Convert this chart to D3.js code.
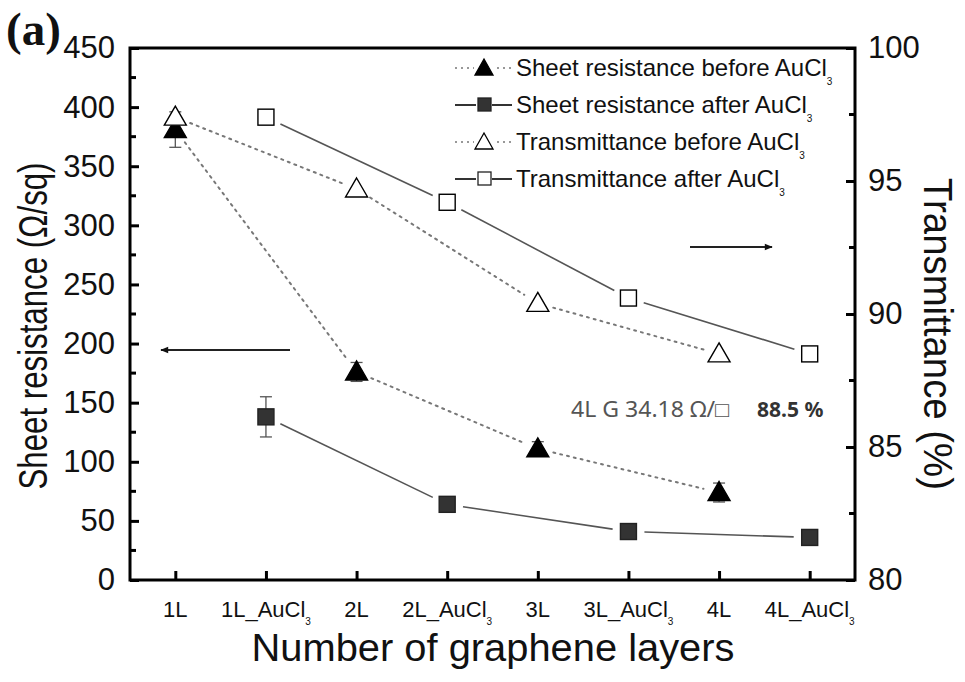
<!DOCTYPE html>
<html><head><meta charset="utf-8">
<script src="https://cdn.jsdelivr.net/npm/d3@7"></script>
<style>body{margin:0;background:#fff}svg{display:block}</style>
</head><body>
<svg id="c" width="965" height="682" font-family="Liberation Sans, Arial, sans-serif"></svg>
<script>
const categories = ["1L","1L_AuCl3","2L","2L_AuCl3","3L","3L_AuCl3","4L","4L_AuCl3"];
const rsBeforeCats = ["1L","2L","3L","4L"];
const rsBefore = [381, 176, 111, 74];
const rsBeforeErr = [15, 8, 6, 8];
const rsAfterCats = ["1L_AuCl3","2L_AuCl3","3L_AuCl3","4L_AuCl3"];
const rsAfter = [138, 64, 41, 36];
const rsAfterErr = [17, 0, 0, 0];
const tBefore = [97.4, 94.7, 90.4, 88.5];
const tAfter = [97.4, 94.2, 90.6, 88.5];
const leftTicks = [0,50,100,150,200,250,300,350,400,450];
const rightTicks = [80,85,90,95,100];

const svg = d3.select("#c");
const L=130, R=855, T=48, B=580;
const x = d3.scalePoint().domain(categories).range([L,R]).padding(0.5);
const yL = d3.scaleLinear().domain([0,450]).range([B,T]);
const yR = d3.scaleLinear().domain([80,100]).range([B,T]);

function gapSegments(pts, gap){
  const segs=[];
  for(let i=0;i<pts.length-1;i++){
    const [x1,y1]=pts[i],[x2,y2]=pts[i+1];
    const dx=x2-x1, dy=y2-y1, d=Math.hypot(dx,dy);
    const ux=dx/d, uy=dy/d;
    segs.push([x1+ux*gap,y1+uy*gap,x2-ux*gap,y2-uy*gap]);
  }
  return segs;
}
const series = [
  {cats:rsBeforeCats, vals:rsBefore, err:rsBeforeErr, y:yL, dash:"2,5", shape:"tri", fill:"#000", lw:2, lc:"#777"},
  {cats:rsAfterCats, vals:rsAfter, err:rsAfterErr, y:yL, dash:null, shape:"sq", fill:"#333", lw:1.6, lc:"#555"},
  {cats:rsBeforeCats, vals:tBefore, err:null, y:yR, dash:"2,5", shape:"tri", fill:"#fff", lw:2, lc:"#777"},
  {cats:rsAfterCats, vals:tAfter, err:null, y:yR, dash:null, shape:"sq", fill:"#fff", lw:1.6, lc:"#555"}
];
function marker(g, shape, cx, cy, fill){
  if(shape==="tri"){
    g.append("path").attr("d",`M${cx},${cy-11}L${cx+11},${cy+8}L${cx-11},${cy+8}Z`)
      .attr("fill",fill).attr("stroke","#000").attr("stroke-width",1.4);
  } else {
    g.append("rect").attr("x",cx-8).attr("y",cy-8).attr("width",16).attr("height",16)
      .attr("fill",fill).attr("stroke", fill==="#fff"?"#000":"#222").attr("stroke-width",1.4);
  }
}
const gs = svg.append("g");
series.forEach(s=>{
  const pts = s.cats.map((c,i)=>[x(c), s.y(s.vals[i])]);
  gapSegments(pts, 16).forEach(sg=>{
    const l = gs.append("line").attr("x1",sg[0]).attr("y1",sg[1]).attr("x2",sg[2]).attr("y2",sg[3])
      .attr("stroke",s.lc).attr("stroke-width",s.lw);
    if(s.dash) l.attr("stroke-dasharray",s.dash).attr("stroke-linecap","round");
  });
  if(s.err){
    s.cats.forEach((c,i)=>{
      const e=s.err[i]; if(!e) return;
      const cx=x(c), y1=s.y(s.vals[i]-e), y2=s.y(s.vals[i]+e);
      gs.append("line").attr("x1",cx).attr("x2",cx).attr("y1",y1).attr("y2",y2).attr("stroke","#555").attr("stroke-width",1.3);
      [y1,y2].forEach(yy=>gs.append("line").attr("x1",cx-6).attr("x2",cx+6).attr("y1",yy).attr("y2",yy).attr("stroke","#555").attr("stroke-width",1.3));
    });
  }
  pts.forEach(p=>marker(gs,s.shape,p[0],p[1],s.fill));
});

// axes
const axL = d3.axisLeft(yL).tickValues(leftTicks).tickSize(-9).tickPadding(15);
const gL = svg.append("g").attr("transform",`translate(${L},0)`).call(axL);
const axR = d3.axisRight(yR).tickValues(rightTicks).tickSize(-9).tickPadding(13);
const gR = svg.append("g").attr("transform",`translate(${R},0)`).call(axR);
const axB = d3.axisBottom(x).tickSize(-9).tickPadding(22).tickFormat(()=> "");
const gB = svg.append("g").attr("transform",`translate(0,${B})`).call(axB);
[gL,gR,gB].forEach(g=>{
  g.attr("font-family","Liberation Sans, Arial, sans-serif").attr("font-size",31);
  g.select(".domain").remove();
  g.selectAll(".tick line").attr("stroke","#000").attr("stroke-width",3);
  g.selectAll(".tick text").attr("fill","#111");
});
const minorL = d3.range(25,450,50);
svg.append("g").selectAll("line").data(minorL).join("line")
  .attr("x1",L).attr("x2",L+6).attr("y1",d=>yL(d)).attr("y2",d=>yL(d)).attr("stroke","#000").attr("stroke-width",3);
const minorR = d3.range(82.5,100,5);
svg.append("g").selectAll("line").data(minorR).join("line")
  .attr("x1",R).attr("x2",R-6).attr("y1",d=>yR(d)).attr("y2",d=>yR(d)).attr("stroke","#000").attr("stroke-width",3);
svg.append("rect").attr("x",L).attr("y",T).attr("width",R-L).attr("height",B-T)
  .attr("fill","none").attr("stroke","#000").attr("stroke-width",3);

// category labels with subscript
categories.forEach(c=>{
  const t = svg.append("text").attr("x",x(c)).attr("y",B+37).attr("text-anchor","middle")
    .attr("font-size",22).attr("fill","#111");
  if(c.endsWith("AuCl3")){
    t.append("tspan").text(c.slice(0,-1));
    t.append("tspan").text("3").attr("font-size",10).attr("dy",8);
  } else t.text(c);
});

// axis titles
svg.append("text").attr("transform","translate(47,326) rotate(-90)").attr("text-anchor","middle")
  .attr("font-size",40).attr("fill","#111").attr("textLength",327).attr("lengthAdjust","spacingAndGlyphs")
  .text("Sheet resistance (Ω/sq)");
svg.append("text").attr("transform","translate(924,334) rotate(90)").attr("text-anchor","middle")
  .attr("font-size",40).attr("fill","#111").attr("textLength",312).attr("lengthAdjust","spacingAndGlyphs")
  .text("Transmittance (%)");
svg.append("text").attr("x",493).attr("y",661).attr("text-anchor","middle")
  .attr("font-size",38).attr("fill","#111").attr("textLength",483).attr("lengthAdjust","spacingAndGlyphs")
  .text("Number of graphene layers");
svg.append("text").attr("x",6).attr("y",45).attr("font-size",47).attr("font-weight","bold")
  .attr("font-family","Liberation Serif, serif").attr("fill","#111").text("(a)");

// legend
const legendLabels = ["Sheet resistance before AuCl","Sheet resistance after AuCl","Transmittance before AuCl","Transmittance after AuCl"];
const legendStyle = [
  {dash:"2,4", shape:"tri", fill:"#000"},
  {dash:null, shape:"sq", fill:"#333"},
  {dash:"2,4", shape:"tri", fill:"#fff"},
  {dash:null, shape:"sq", fill:"#fff"}
];
legendLabels.forEach((label,i)=>{
  const d = legendStyle[i];
  const yy = 68 + i*37;
  const l = svg.append("line").attr("x1",455).attr("x2",512).attr("y1",yy).attr("y2",yy)
    .attr("stroke", d.dash?"#777":"#333").attr("stroke-width",d.dash?1.6:1.8);
  if(d.dash) l.attr("stroke-dasharray",d.dash);
  const g = svg.append("g");
  if(d.shape==="tri"){
    g.append("rect").attr("x",474).attr("y",yy-11).attr("width",20).attr("height",20).attr("fill","#fff");
    g.append("path").attr("d",`M484,${yy-9}L493,${yy+7}L475,${yy+7}Z`).attr("fill",d.fill).attr("stroke","#000").attr("stroke-width",1.3);
  } else {
    g.append("rect").attr("x",476).attr("y",yy-9).attr("width",16).attr("height",16).attr("fill","#fff");
    g.append("rect").attr("x",478).attr("y",yy-7).attr("width",13).attr("height",13).attr("fill",d.fill).attr("stroke","#222").attr("stroke-width",1.3);
  }
  const t = svg.append("text").attr("x",516).attr("y",yy+8).attr("font-size",24).attr("fill","#111");
  t.append("tspan").text(label);
  t.append("tspan").text("3").attr("font-size",10).attr("dy",9);
});

// arrows
svg.append("defs").append("marker").attr("id","ah").attr("viewBox","0 0 10 10").attr("refX",9).attr("refY",5)
  .attr("markerWidth",12).attr("markerHeight",8).attr("orient","auto").attr("markerUnits","userSpaceOnUse")
  .append("path").attr("d","M0,1L10,5L0,9Z").attr("fill","#111");
svg.append("line").attr("x1",290).attr("x2",161).attr("y1",350).attr("y2",350).attr("stroke","#222").attr("stroke-width",1.8).attr("marker-end","url(#ah)");
svg.append("line").attr("x1",690).attr("x2",772).attr("y1",247).attr("y2",247).attr("stroke","#222").attr("stroke-width",1.8).attr("marker-end","url(#ah)");

// annotation
svg.append("text").attr("x",571).attr("y",417).attr("font-size",21).attr("fill","#555")
  .attr("font-family","Noto Sans, sans-serif").attr("textLength",158).attr("lengthAdjust","spacingAndGlyphs")
  .text("4L G  34.18 Ω/□");
svg.append("text").attr("x",757).attr("y",417).attr("font-size",21).attr("font-weight","bold").attr("fill","#333")
  .attr("font-family","Noto Sans, sans-serif").text("88.5 %");
</script>
</body></html>
